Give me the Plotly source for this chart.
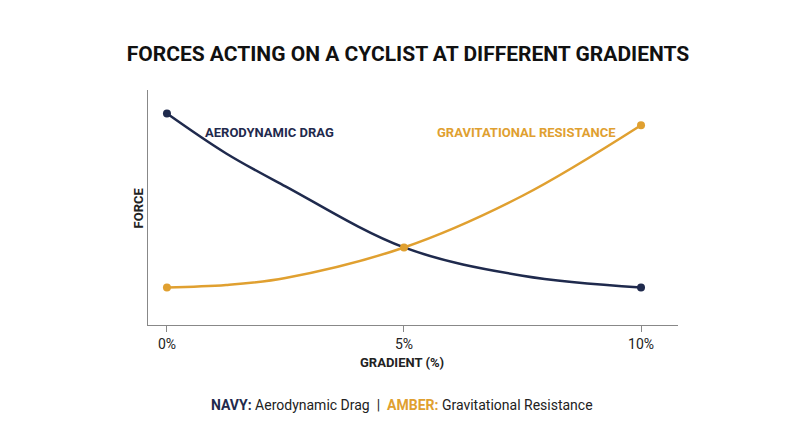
import plotly.graph_objects as go

gradient = [0, 1.25, 2.5, 5, 7.5, 10]
drag = [90, 73, 59, 33, 21, 16]
gravity = [16, 17, 20, 33, 55, 85]
tick_vals = [0, 5, 10]
tick_text = ["0%", "5%", "10%"]

NAVY = "#1f2a4d"
AMBER = "#e0a030"
font = "Roboto"

fig = go.Figure()
fig.add_trace(go.Scatter(x=gradient, y=drag, mode="lines", line=dict(color=NAVY, width=2.5, shape="spline")))
fig.add_trace(go.Scatter(x=gradient, y=gravity, mode="lines", line=dict(color=AMBER, width=2.5, shape="spline")))
fig.add_trace(go.Scatter(x=[gradient[0], gradient[-1]], y=[drag[0], drag[-1]], mode="markers",
                         marker=dict(color=NAVY, size=8)))
fig.add_trace(go.Scatter(x=[gradient[0], gradient[3], gradient[-1]], y=[gravity[0], gravity[3], gravity[-1]],
                         mode="markers", marker=dict(color=AMBER, size=8)))

fig.add_annotation(x=0.75, y=82, text="<b>AERODYNAMIC DRAG</b>", showarrow=False, xanchor="left",
                   font=dict(family=font, size=13, color=NAVY))
fig.add_annotation(x=5.65, y=82, text="<b>GRAVITATIONAL RESISTANCE</b>", showarrow=False, xanchor="left",
                   font=dict(family=font, size=13, color=AMBER))
fig.add_annotation(x=-0.035, y=0.5, xref="paper", yref="paper", text="<b>FORCE</b>", textangle=-90,
                   showarrow=False, font=dict(family=font, size=13, color="#222"))
fig.add_annotation(x=0.48, y=-0.2, xref="paper", yref="paper", text="<b>GRADIENT (%)</b>",
                   showarrow=False, font=dict(family=font, size=13, color="#222"))
fig.add_annotation(x=0.48, y=-0.385, xref="paper", yref="paper",
                   text=f"<b><span style='color:{NAVY}'>NAVY:</span></b> Aerodynamic Drag  |  "
                        f"<b><span style='color:{AMBER}'>AMBER:</span></b> Gravitational Resistance",
                   showarrow=False, font=dict(family=font, size=14, color="#222"))

fig.update_layout(
    title=dict(text="<b>FORCES ACTING ON A CYCLIST AT DIFFERENT GRADIENTS</b>", x=0.5, y=0.915,
               xanchor="center", font=dict(family=font, size=21, color="#111")),
    width=800, height=447,
    margin=dict(l=140, r=130, t=82, b=130),
    plot_bgcolor="white", paper_bgcolor="white",
    showlegend=False,
    xaxis=dict(range=[-0.4, 10.78], tickvals=tick_vals, ticktext=tick_text, showgrid=False,
               zeroline=False, showline=True, linecolor="#888", linewidth=1.2,
               ticks="outside", ticklen=6, tickcolor="#888",
               tickfont=dict(family=font, size=14, color="#222")),
    yaxis=dict(range=[0, 100], showticklabels=False, showgrid=False, zeroline=False,
               showline=True, linecolor="#888", linewidth=1.2),
)

fig.write_html("out.html")
